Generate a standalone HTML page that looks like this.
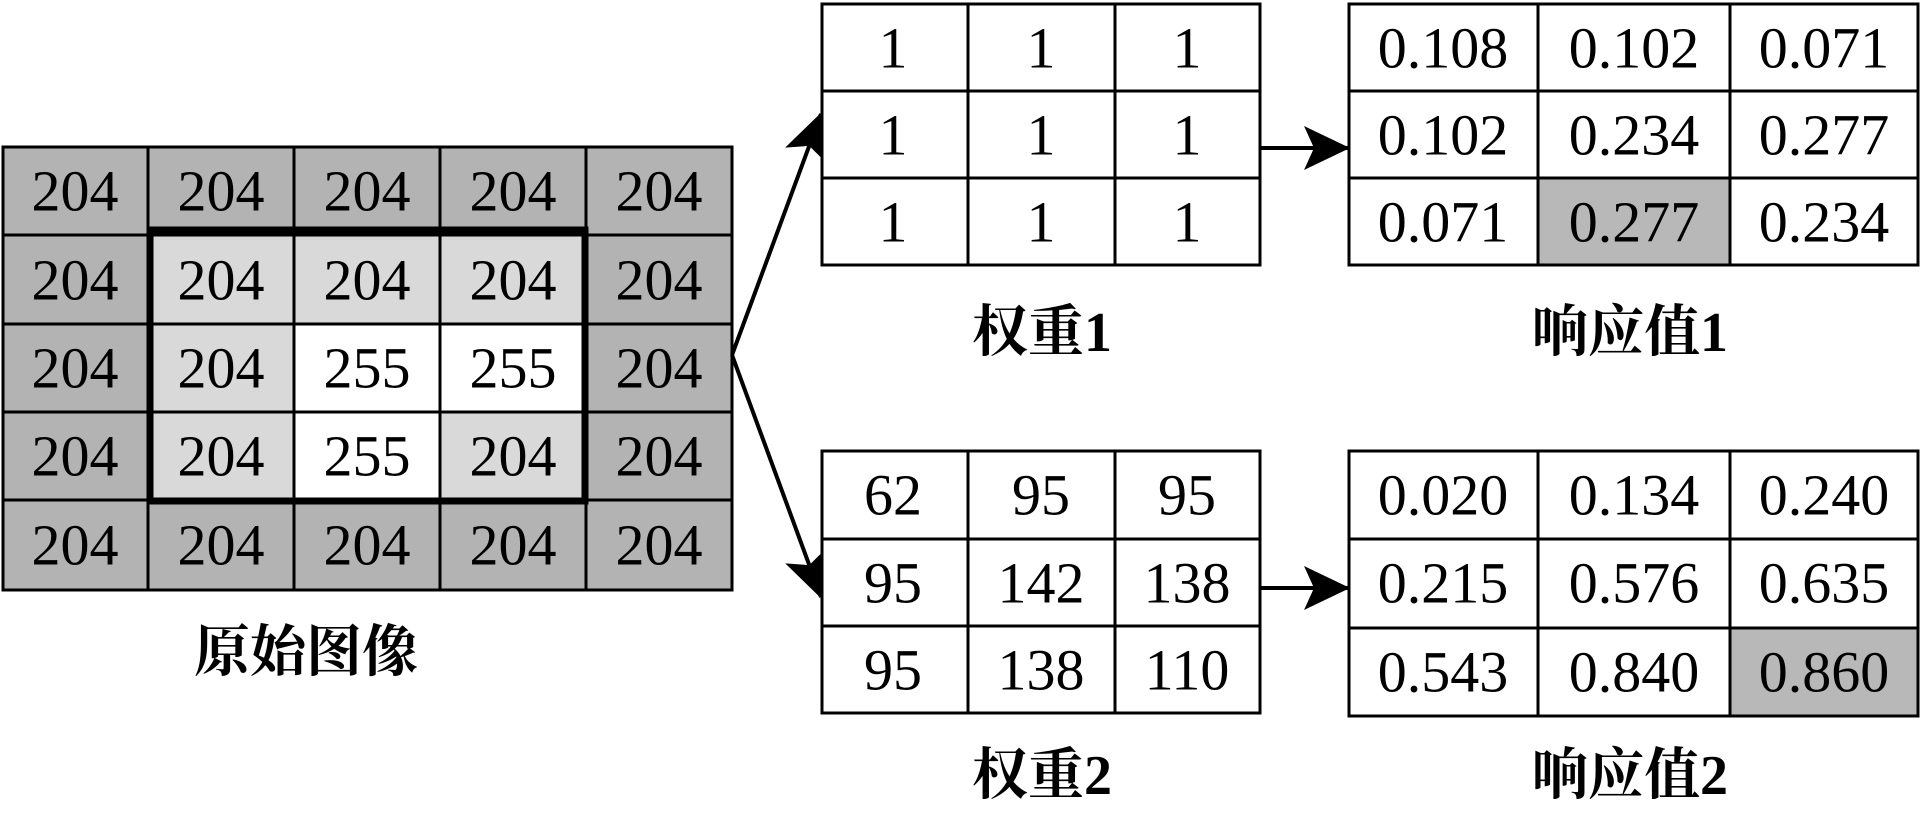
<!DOCTYPE html>
<html><head><meta charset="utf-8"><style>html,body{margin:0;padding:0;background:#fff}svg{display:block}</style></head><body>
<svg width="1922" height="815" viewBox="0 0 1922 815" xmlns="http://www.w3.org/2000/svg">
<defs>
<marker id="b" markerWidth="46" markerHeight="44" refX="44" refY="22" orient="auto" markerUnits="userSpaceOnUse"><path d="M0,0 L46,22 L0,44 L10,22 z" fill="#000"/></marker></defs>
<g font-family="Liberation Serif, serif" font-size="58" text-anchor="middle" dominant-baseline="central" fill="#000">
<g stroke="#000" stroke-width="3">
<rect x="3" y="147" width="729" height="443" fill="#b3b3b3"/>
<rect x="148" y="235" width="439" height="265" fill="#d9d9d9" stroke="none"/>
<rect x="294" y="324" width="292" height="88" fill="#fff" stroke="none"/>
<rect x="294" y="412" width="146" height="88" fill="#fff" stroke="none"/>
<line x1="148" y1="147" x2="148" y2="590"/><line x1="294" y1="147" x2="294" y2="590"/><line x1="440" y1="147" x2="440" y2="590"/><line x1="586" y1="147" x2="586" y2="590"/>
<line x1="3" y1="235" x2="732" y2="235"/><line x1="3" y1="324" x2="732" y2="324"/><line x1="3" y1="412" x2="732" y2="412"/><line x1="3" y1="500" x2="732" y2="500"/>
<rect x="150" y="230" width="435" height="271" fill="none" stroke-width="7"/>
</g>
<g>
<text x="75" y="191">204</text><text x="221" y="191">204</text><text x="367" y="191">204</text><text x="513" y="191">204</text><text x="659" y="191">204</text>
<text x="75" y="280">204</text><text x="221" y="280">204</text><text x="367" y="280">204</text><text x="513" y="280">204</text><text x="659" y="280">204</text>
<text x="75" y="368">204</text><text x="221" y="368">204</text><text x="367" y="368">255</text><text x="513" y="368">255</text><text x="659" y="368">204</text>
<text x="75" y="456">204</text><text x="221" y="456">204</text><text x="367" y="456">255</text><text x="513" y="456">204</text><text x="659" y="456">204</text>
<text x="75" y="545">204</text><text x="221" y="545">204</text><text x="367" y="545">204</text><text x="513" y="545">204</text><text x="659" y="545">204</text>
</g>
<g stroke="#000" stroke-width="4" fill="none">
<line x1="732" y1="355" x2="821" y2="114" marker-end="url(#b)"/>
<line x1="732" y1="355" x2="821" y2="597" marker-end="url(#b)"/>
<line x1="1260" y1="148" x2="1348" y2="148" marker-end="url(#b)"/>
<line x1="1260" y1="588" x2="1348" y2="588" marker-end="url(#b)"/>
</g>
<g stroke="#000" stroke-width="3" fill="#fff">
<rect x="822" y="4" width="438" height="261"/><line x1="968" y1="4" x2="968" y2="265"/><line x1="1115" y1="4" x2="1115" y2="265"/><line x1="822" y1="91" x2="1260" y2="91"/><line x1="822" y1="178" x2="1260" y2="178"/>
<rect x="822" y="451" width="438" height="262"/><line x1="968" y1="451" x2="968" y2="713"/><line x1="1115" y1="451" x2="1115" y2="713"/><line x1="822" y1="539" x2="1260" y2="539"/><line x1="822" y1="626" x2="1260" y2="626"/>
<rect x="1349" y="4" width="569" height="261"/>
<rect x="1538" y="178" width="192" height="87" fill="#b8b8b8"/>
<line x1="1538" y1="4" x2="1538" y2="265"/><line x1="1730" y1="4" x2="1730" y2="265"/><line x1="1349" y1="91" x2="1918" y2="91"/><line x1="1349" y1="178" x2="1918" y2="178"/>
<rect x="1349" y="451" width="569" height="265"/>
<rect x="1730" y="628" width="188" height="88" fill="#b8b8b8"/>
<line x1="1538" y1="451" x2="1538" y2="716"/><line x1="1730" y1="451" x2="1730" y2="716"/><line x1="1349" y1="539" x2="1918" y2="539"/><line x1="1349" y1="628" x2="1918" y2="628"/>
</g>
<g>
<text x="893" y="48">1</text><text x="1041" y="48">1</text><text x="1187" y="48">1</text>
<text x="893" y="135">1</text><text x="1041" y="135">1</text><text x="1187" y="135">1</text>
<text x="893" y="222">1</text><text x="1041" y="222">1</text><text x="1187" y="222">1</text>
<text x="893" y="495">62</text><text x="1041" y="495">95</text><text x="1187" y="495">95</text>
<text x="893" y="583">95</text><text x="1041" y="583">142</text><text x="1187" y="583">138</text>
<text x="893" y="670">95</text><text x="1041" y="670">138</text><text x="1187" y="670">110</text>
<text x="1443" y="48">0.108</text><text x="1634" y="48">0.102</text><text x="1824" y="48">0.071</text>
<text x="1443" y="135">0.102</text><text x="1634" y="135">0.234</text><text x="1824" y="135">0.277</text>
<text x="1443" y="222">0.071</text><text x="1634" y="222">0.277</text><text x="1824" y="222">0.234</text>
<text x="1443" y="495">0.020</text><text x="1634" y="495">0.134</text><text x="1824" y="495">0.240</text>
<text x="1443" y="583">0.215</text><text x="1634" y="583">0.576</text><text x="1824" y="583">0.635</text>
<text x="1443" y="672">0.543</text><text x="1634" y="672">0.840</text><text x="1824" y="672">0.860</text>
</g>
<g font-family="Liberation Serif, 'Noto Serif CJK SC', serif" font-size="56" font-weight="bold">
<text x="306" y="653">原始图像</text>
<text x="1042" y="333">权重1</text>
<text x="1630" y="333">响应值1</text>
<text x="1042" y="776">权重2</text>
<text x="1630" y="776">响应值2</text>
</g>
</g>
</svg>
</body></html>
